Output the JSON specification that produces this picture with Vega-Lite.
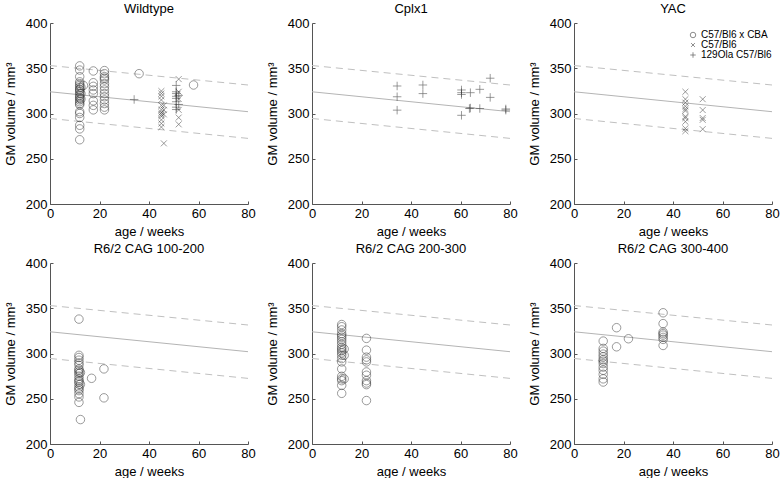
{
  "$schema": "https://vega.github.io/schema/vega-lite/v6.json",
  "background": "white",
  "padding": {"left": 4, "top": 3, "right": 4, "bottom": 0},
  "bounds": "flush",
  "columns": 3,
  "spacing": {"row": 59, "column": 64},
  "config": {
    "font": "Liberation Sans",
    "view": {"stroke": null},
    "axis": {"grid": false, "labelFontSize": 13, "titleFontSize": 13, "titleFontWeight": "normal", "labelColor": "#000", "titleColor": "#000", "domainColor": "#555", "tickColor": "#555", "tickSize": -3, "labelPadding": 6, "labelFlush": false},
    "axisX": {"titlePadding": 5},
    "axisY": {"titlePadding": 8},
    "title": {"fontSize": 13, "fontWeight": "normal", "color": "#000", "offset": 1},
    "legend": {"labelFontSize": 10, "labelColor": "#000", "symbolSize": 30, "symbolStrokeWidth": 0.8, "symbolStrokeColor": "#333", "rowPadding": 0, "labelOffset": 3, "padding": 0}
  },
  "datasets": {
    "lines": [
      {"kind": "fit", "age": 0, "vol": 324}, {"kind": "fit", "age": 80, "vol": 302},
      {"kind": "upper", "age": 0, "vol": 353}, {"kind": "upper", "age": 80, "vol": 331.5},
      {"kind": "lower", "age": 0, "vol": 294.5}, {"kind": "lower", "age": 80, "vol": 272.5}
    ]
  },
  "data": {"values": [
    {"panel": "Wildtype", "strain": "C57/Bl6 x CBA", "age": 12, "vol": 352.6},
    {"panel": "Wildtype", "strain": "C57/Bl6 x CBA", "age": 12, "vol": 348},
    {"panel": "Wildtype", "strain": "C57/Bl6 x CBA", "age": 12, "vol": 340.7},
    {"panel": "Wildtype", "strain": "C57/Bl6 x CBA", "age": 12, "vol": 335},
    {"panel": "Wildtype", "strain": "C57/Bl6 x CBA", "age": 12, "vol": 333},
    {"panel": "Wildtype", "strain": "C57/Bl6 x CBA", "age": 12, "vol": 331},
    {"panel": "Wildtype", "strain": "C57/Bl6 x CBA", "age": 12, "vol": 329},
    {"panel": "Wildtype", "strain": "C57/Bl6 x CBA", "age": 12, "vol": 327},
    {"panel": "Wildtype", "strain": "C57/Bl6 x CBA", "age": 12, "vol": 326},
    {"panel": "Wildtype", "strain": "C57/Bl6 x CBA", "age": 12, "vol": 324},
    {"panel": "Wildtype", "strain": "C57/Bl6 x CBA", "age": 12, "vol": 322},
    {"panel": "Wildtype", "strain": "C57/Bl6 x CBA", "age": 12, "vol": 320},
    {"panel": "Wildtype", "strain": "C57/Bl6 x CBA", "age": 12, "vol": 318},
    {"panel": "Wildtype", "strain": "C57/Bl6 x CBA", "age": 12, "vol": 316.7},
    {"panel": "Wildtype", "strain": "C57/Bl6 x CBA", "age": 12, "vol": 315},
    {"panel": "Wildtype", "strain": "C57/Bl6 x CBA", "age": 12, "vol": 313},
    {"panel": "Wildtype", "strain": "C57/Bl6 x CBA", "age": 12, "vol": 311},
    {"panel": "Wildtype", "strain": "C57/Bl6 x CBA", "age": 12, "vol": 309.6},
    {"panel": "Wildtype", "strain": "C57/Bl6 x CBA", "age": 12, "vol": 302},
    {"panel": "Wildtype", "strain": "C57/Bl6 x CBA", "age": 12, "vol": 300},
    {"panel": "Wildtype", "strain": "C57/Bl6 x CBA", "age": 12, "vol": 295.6},
    {"panel": "Wildtype", "strain": "C57/Bl6 x CBA", "age": 12, "vol": 287},
    {"panel": "Wildtype", "strain": "C57/Bl6 x CBA", "age": 12, "vol": 283},
    {"panel": "Wildtype", "strain": "C57/Bl6 x CBA", "age": 12, "vol": 271},
    {"panel": "Wildtype", "strain": "C57/Bl6 x CBA", "age": 12.5, "vol": 329},
    {"panel": "Wildtype", "strain": "C57/Bl6 x CBA", "age": 12.5, "vol": 322},
    {"panel": "Wildtype", "strain": "C57/Bl6 x CBA", "age": 12.5, "vol": 316},
    {"panel": "Wildtype", "strain": "C57/Bl6 x CBA", "age": 13.5, "vol": 331},
    {"panel": "Wildtype", "strain": "C57/Bl6 x CBA", "age": 17.5, "vol": 347},
    {"panel": "Wildtype", "strain": "C57/Bl6 x CBA", "age": 17.5, "vol": 334},
    {"panel": "Wildtype", "strain": "C57/Bl6 x CBA", "age": 17.5, "vol": 330},
    {"panel": "Wildtype", "strain": "C57/Bl6 x CBA", "age": 17.5, "vol": 326},
    {"panel": "Wildtype", "strain": "C57/Bl6 x CBA", "age": 17.5, "vol": 322},
    {"panel": "Wildtype", "strain": "C57/Bl6 x CBA", "age": 17.5, "vol": 314},
    {"panel": "Wildtype", "strain": "C57/Bl6 x CBA", "age": 17.5, "vol": 309},
    {"panel": "Wildtype", "strain": "C57/Bl6 x CBA", "age": 17.5, "vol": 304},
    {"panel": "Wildtype", "strain": "C57/Bl6 x CBA", "age": 22, "vol": 347.4},
    {"panel": "Wildtype", "strain": "C57/Bl6 x CBA", "age": 22, "vol": 344},
    {"panel": "Wildtype", "strain": "C57/Bl6 x CBA", "age": 22, "vol": 340.7},
    {"panel": "Wildtype", "strain": "C57/Bl6 x CBA", "age": 22, "vol": 339},
    {"panel": "Wildtype", "strain": "C57/Bl6 x CBA", "age": 22, "vol": 337},
    {"panel": "Wildtype", "strain": "C57/Bl6 x CBA", "age": 22, "vol": 333},
    {"panel": "Wildtype", "strain": "C57/Bl6 x CBA", "age": 22, "vol": 329.6},
    {"panel": "Wildtype", "strain": "C57/Bl6 x CBA", "age": 22, "vol": 326},
    {"panel": "Wildtype", "strain": "C57/Bl6 x CBA", "age": 22, "vol": 322},
    {"panel": "Wildtype", "strain": "C57/Bl6 x CBA", "age": 22, "vol": 318.5},
    {"panel": "Wildtype", "strain": "C57/Bl6 x CBA", "age": 22, "vol": 315},
    {"panel": "Wildtype", "strain": "C57/Bl6 x CBA", "age": 22, "vol": 311},
    {"panel": "Wildtype", "strain": "C57/Bl6 x CBA", "age": 22, "vol": 307},
    {"panel": "Wildtype", "strain": "C57/Bl6 x CBA", "age": 22, "vol": 304},
    {"panel": "Wildtype", "strain": "C57/Bl6 x CBA", "age": 36, "vol": 344},
    {"panel": "Wildtype", "strain": "C57/Bl6 x CBA", "age": 58, "vol": 331.5},
    {"panel": "Wildtype", "strain": "129Ola C57/Bl6", "age": 34, "vol": 315.5},
    {"panel": "Wildtype", "strain": "129Ola C57/Bl6", "age": 51, "vol": 331},
    {"panel": "Wildtype", "strain": "129Ola C57/Bl6", "age": 51, "vol": 324},
    {"panel": "Wildtype", "strain": "129Ola C57/Bl6", "age": 51, "vol": 322},
    {"panel": "Wildtype", "strain": "129Ola C57/Bl6", "age": 51, "vol": 319},
    {"panel": "Wildtype", "strain": "129Ola C57/Bl6", "age": 51, "vol": 316.7},
    {"panel": "Wildtype", "strain": "129Ola C57/Bl6", "age": 51, "vol": 313},
    {"panel": "Wildtype", "strain": "129Ola C57/Bl6", "age": 51, "vol": 307},
    {"panel": "Wildtype", "strain": "129Ola C57/Bl6", "age": 51, "vol": 304.4},
    {"panel": "Wildtype", "strain": "129Ola C57/Bl6", "age": 52, "vol": 320},
    {"panel": "Wildtype", "strain": "129Ola C57/Bl6", "age": 52, "vol": 310},
    {"panel": "Wildtype", "strain": "C57/Bl6", "age": 45, "vol": 324.8},
    {"panel": "Wildtype", "strain": "C57/Bl6", "age": 45, "vol": 322},
    {"panel": "Wildtype", "strain": "C57/Bl6", "age": 45, "vol": 319},
    {"panel": "Wildtype", "strain": "C57/Bl6", "age": 45, "vol": 315},
    {"panel": "Wildtype", "strain": "C57/Bl6", "age": 45, "vol": 309},
    {"panel": "Wildtype", "strain": "C57/Bl6", "age": 45, "vol": 304},
    {"panel": "Wildtype", "strain": "C57/Bl6", "age": 45, "vol": 301},
    {"panel": "Wildtype", "strain": "C57/Bl6", "age": 45, "vol": 299},
    {"panel": "Wildtype", "strain": "C57/Bl6", "age": 45, "vol": 297},
    {"panel": "Wildtype", "strain": "C57/Bl6", "age": 45, "vol": 293},
    {"panel": "Wildtype", "strain": "C57/Bl6", "age": 45, "vol": 289},
    {"panel": "Wildtype", "strain": "C57/Bl6", "age": 45, "vol": 285},
    {"panel": "Wildtype", "strain": "C57/Bl6", "age": 46, "vol": 267},
    {"panel": "Wildtype", "strain": "C57/Bl6", "age": 46, "vol": 309},
    {"panel": "Wildtype", "strain": "C57/Bl6", "age": 46, "vol": 304},
    {"panel": "Wildtype", "strain": "C57/Bl6", "age": 46, "vol": 299},
    {"panel": "Wildtype", "strain": "C57/Bl6", "age": 52, "vol": 338},
    {"panel": "Wildtype", "strain": "C57/Bl6", "age": 52, "vol": 324},
    {"panel": "Wildtype", "strain": "C57/Bl6", "age": 52, "vol": 316},
    {"panel": "Wildtype", "strain": "C57/Bl6", "age": 52, "vol": 304},
    {"panel": "Wildtype", "strain": "C57/Bl6", "age": 52, "vol": 295.5},
    {"panel": "Wildtype", "strain": "C57/Bl6", "age": 52, "vol": 288},
    {"panel": "Cplx1", "strain": "129Ola C57/Bl6", "age": 34.4, "vol": 330.4},
    {"panel": "Cplx1", "strain": "129Ola C57/Bl6", "age": 34.4, "vol": 318.5},
    {"panel": "Cplx1", "strain": "129Ola C57/Bl6", "age": 34.4, "vol": 303.7},
    {"panel": "Cplx1", "strain": "129Ola C57/Bl6", "age": 44.8, "vol": 331.5},
    {"panel": "Cplx1", "strain": "129Ola C57/Bl6", "age": 44.8, "vol": 322},
    {"panel": "Cplx1", "strain": "129Ola C57/Bl6", "age": 60.4, "vol": 326},
    {"panel": "Cplx1", "strain": "129Ola C57/Bl6", "age": 60.4, "vol": 323},
    {"panel": "Cplx1", "strain": "129Ola C57/Bl6", "age": 60.4, "vol": 321},
    {"panel": "Cplx1", "strain": "129Ola C57/Bl6", "age": 60.4, "vol": 298},
    {"panel": "Cplx1", "strain": "129Ola C57/Bl6", "age": 64, "vol": 323},
    {"panel": "Cplx1", "strain": "129Ola C57/Bl6", "age": 64, "vol": 306},
    {"panel": "Cplx1", "strain": "129Ola C57/Bl6", "age": 63.6, "vol": 305.5},
    {"panel": "Cplx1", "strain": "129Ola C57/Bl6", "age": 67.8, "vol": 326.7},
    {"panel": "Cplx1", "strain": "129Ola C57/Bl6", "age": 67.8, "vol": 305.5},
    {"panel": "Cplx1", "strain": "129Ola C57/Bl6", "age": 72, "vol": 339},
    {"panel": "Cplx1", "strain": "129Ola C57/Bl6", "age": 72, "vol": 317.8},
    {"panel": "Cplx1", "strain": "129Ola C57/Bl6", "age": 78.3, "vol": 305},
    {"panel": "Cplx1", "strain": "129Ola C57/Bl6", "age": 78.3, "vol": 303.7},
    {"panel": "YAC", "strain": "C57/Bl6", "age": 45, "vol": 324},
    {"panel": "YAC", "strain": "C57/Bl6", "age": 45, "vol": 315.8},
    {"panel": "YAC", "strain": "C57/Bl6", "age": 45, "vol": 312},
    {"panel": "YAC", "strain": "C57/Bl6", "age": 45, "vol": 308},
    {"panel": "YAC", "strain": "C57/Bl6", "age": 45, "vol": 305},
    {"panel": "YAC", "strain": "C57/Bl6", "age": 45, "vol": 303},
    {"panel": "YAC", "strain": "C57/Bl6", "age": 45, "vol": 296.7},
    {"panel": "YAC", "strain": "C57/Bl6", "age": 45, "vol": 295},
    {"panel": "YAC", "strain": "C57/Bl6", "age": 45, "vol": 291},
    {"panel": "YAC", "strain": "C57/Bl6", "age": 45, "vol": 283.5},
    {"panel": "YAC", "strain": "C57/Bl6", "age": 45, "vol": 280.5},
    {"panel": "YAC", "strain": "C57/Bl6", "age": 52, "vol": 315.8},
    {"panel": "YAC", "strain": "C57/Bl6", "age": 52, "vol": 303.8},
    {"panel": "YAC", "strain": "C57/Bl6", "age": 52, "vol": 295},
    {"panel": "YAC", "strain": "C57/Bl6", "age": 52, "vol": 293},
    {"panel": "YAC", "strain": "C57/Bl6", "age": 52, "vol": 282.7},
    {"panel": "R6/2 CAG 100-200", "strain": "C57/Bl6 x CBA", "age": 11.7, "vol": 338},
    {"panel": "R6/2 CAG 100-200", "strain": "C57/Bl6 x CBA", "age": 11.7, "vol": 298},
    {"panel": "R6/2 CAG 100-200", "strain": "C57/Bl6 x CBA", "age": 11.7, "vol": 295.6},
    {"panel": "R6/2 CAG 100-200", "strain": "C57/Bl6 x CBA", "age": 11.7, "vol": 292.6},
    {"panel": "R6/2 CAG 100-200", "strain": "C57/Bl6 x CBA", "age": 11.7, "vol": 289.6},
    {"panel": "R6/2 CAG 100-200", "strain": "C57/Bl6 x CBA", "age": 11.7, "vol": 287},
    {"panel": "R6/2 CAG 100-200", "strain": "C57/Bl6 x CBA", "age": 11.7, "vol": 283},
    {"panel": "R6/2 CAG 100-200", "strain": "C57/Bl6 x CBA", "age": 11.7, "vol": 281.5},
    {"panel": "R6/2 CAG 100-200", "strain": "C57/Bl6 x CBA", "age": 11.7, "vol": 279.6},
    {"panel": "R6/2 CAG 100-200", "strain": "C57/Bl6 x CBA", "age": 11.7, "vol": 277.8},
    {"panel": "R6/2 CAG 100-200", "strain": "C57/Bl6 x CBA", "age": 11.7, "vol": 275},
    {"panel": "R6/2 CAG 100-200", "strain": "C57/Bl6 x CBA", "age": 11.7, "vol": 272},
    {"panel": "R6/2 CAG 100-200", "strain": "C57/Bl6 x CBA", "age": 11.7, "vol": 270},
    {"panel": "R6/2 CAG 100-200", "strain": "C57/Bl6 x CBA", "age": 11.7, "vol": 268.5},
    {"panel": "R6/2 CAG 100-200", "strain": "C57/Bl6 x CBA", "age": 11.7, "vol": 266},
    {"panel": "R6/2 CAG 100-200", "strain": "C57/Bl6 x CBA", "age": 11.7, "vol": 263},
    {"panel": "R6/2 CAG 100-200", "strain": "C57/Bl6 x CBA", "age": 11.7, "vol": 261},
    {"panel": "R6/2 CAG 100-200", "strain": "C57/Bl6 x CBA", "age": 11.7, "vol": 259},
    {"panel": "R6/2 CAG 100-200", "strain": "C57/Bl6 x CBA", "age": 11.7, "vol": 255.6},
    {"panel": "R6/2 CAG 100-200", "strain": "C57/Bl6 x CBA", "age": 11.7, "vol": 252},
    {"panel": "R6/2 CAG 100-200", "strain": "C57/Bl6 x CBA", "age": 11.7, "vol": 246},
    {"panel": "R6/2 CAG 100-200", "strain": "C57/Bl6 x CBA", "age": 12.3, "vol": 279},
    {"panel": "R6/2 CAG 100-200", "strain": "C57/Bl6 x CBA", "age": 12.3, "vol": 266},
    {"panel": "R6/2 CAG 100-200", "strain": "C57/Bl6 x CBA", "age": 12.3, "vol": 227},
    {"panel": "R6/2 CAG 100-200", "strain": "C57/Bl6 x CBA", "age": 16.8, "vol": 272.6},
    {"panel": "R6/2 CAG 100-200", "strain": "C57/Bl6 x CBA", "age": 21.8, "vol": 283},
    {"panel": "R6/2 CAG 100-200", "strain": "C57/Bl6 x CBA", "age": 21.8, "vol": 251},
    {"panel": "R6/2 CAG 200-300", "strain": "C57/Bl6 x CBA", "age": 12, "vol": 332},
    {"panel": "R6/2 CAG 200-300", "strain": "C57/Bl6 x CBA", "age": 12, "vol": 329.6},
    {"panel": "R6/2 CAG 200-300", "strain": "C57/Bl6 x CBA", "age": 12, "vol": 326},
    {"panel": "R6/2 CAG 200-300", "strain": "C57/Bl6 x CBA", "age": 12, "vol": 322},
    {"panel": "R6/2 CAG 200-300", "strain": "C57/Bl6 x CBA", "age": 12, "vol": 320},
    {"panel": "R6/2 CAG 200-300", "strain": "C57/Bl6 x CBA", "age": 12, "vol": 318},
    {"panel": "R6/2 CAG 200-300", "strain": "C57/Bl6 x CBA", "age": 12, "vol": 315.6},
    {"panel": "R6/2 CAG 200-300", "strain": "C57/Bl6 x CBA", "age": 12, "vol": 313},
    {"panel": "R6/2 CAG 200-300", "strain": "C57/Bl6 x CBA", "age": 12, "vol": 310},
    {"panel": "R6/2 CAG 200-300", "strain": "C57/Bl6 x CBA", "age": 12, "vol": 307},
    {"panel": "R6/2 CAG 200-300", "strain": "C57/Bl6 x CBA", "age": 12, "vol": 305},
    {"panel": "R6/2 CAG 200-300", "strain": "C57/Bl6 x CBA", "age": 12, "vol": 303},
    {"panel": "R6/2 CAG 200-300", "strain": "C57/Bl6 x CBA", "age": 12, "vol": 300.7},
    {"panel": "R6/2 CAG 200-300", "strain": "C57/Bl6 x CBA", "age": 12, "vol": 298},
    {"panel": "R6/2 CAG 200-300", "strain": "C57/Bl6 x CBA", "age": 12, "vol": 294.4},
    {"panel": "R6/2 CAG 200-300", "strain": "C57/Bl6 x CBA", "age": 12, "vol": 290.7},
    {"panel": "R6/2 CAG 200-300", "strain": "C57/Bl6 x CBA", "age": 12, "vol": 283},
    {"panel": "R6/2 CAG 200-300", "strain": "C57/Bl6 x CBA", "age": 12, "vol": 274.8},
    {"panel": "R6/2 CAG 200-300", "strain": "C57/Bl6 x CBA", "age": 12, "vol": 272},
    {"panel": "R6/2 CAG 200-300", "strain": "C57/Bl6 x CBA", "age": 12, "vol": 270},
    {"panel": "R6/2 CAG 200-300", "strain": "C57/Bl6 x CBA", "age": 12, "vol": 264.8},
    {"panel": "R6/2 CAG 200-300", "strain": "C57/Bl6 x CBA", "age": 12, "vol": 256},
    {"panel": "R6/2 CAG 200-300", "strain": "C57/Bl6 x CBA", "age": 13, "vol": 305},
    {"panel": "R6/2 CAG 200-300", "strain": "C57/Bl6 x CBA", "age": 13, "vol": 298},
    {"panel": "R6/2 CAG 200-300", "strain": "C57/Bl6 x CBA", "age": 13, "vol": 272},
    {"panel": "R6/2 CAG 200-300", "strain": "C57/Bl6 x CBA", "age": 22, "vol": 316.7},
    {"panel": "R6/2 CAG 200-300", "strain": "C57/Bl6 x CBA", "age": 22, "vol": 303.7},
    {"panel": "R6/2 CAG 200-300", "strain": "C57/Bl6 x CBA", "age": 22, "vol": 296},
    {"panel": "R6/2 CAG 200-300", "strain": "C57/Bl6 x CBA", "age": 22, "vol": 293},
    {"panel": "R6/2 CAG 200-300", "strain": "C57/Bl6 x CBA", "age": 22, "vol": 290.7},
    {"panel": "R6/2 CAG 200-300", "strain": "C57/Bl6 x CBA", "age": 22, "vol": 279.6},
    {"panel": "R6/2 CAG 200-300", "strain": "C57/Bl6 x CBA", "age": 22, "vol": 276},
    {"panel": "R6/2 CAG 200-300", "strain": "C57/Bl6 x CBA", "age": 22, "vol": 270},
    {"panel": "R6/2 CAG 200-300", "strain": "C57/Bl6 x CBA", "age": 22, "vol": 267.4},
    {"panel": "R6/2 CAG 200-300", "strain": "C57/Bl6 x CBA", "age": 22, "vol": 265.6},
    {"panel": "R6/2 CAG 200-300", "strain": "C57/Bl6 x CBA", "age": 22, "vol": 248},
    {"panel": "R6/2 CAG 300-400", "strain": "C57/Bl6 x CBA", "age": 11.8, "vol": 313.7},
    {"panel": "R6/2 CAG 300-400", "strain": "C57/Bl6 x CBA", "age": 11.8, "vol": 305.6},
    {"panel": "R6/2 CAG 300-400", "strain": "C57/Bl6 x CBA", "age": 11.8, "vol": 302.6},
    {"panel": "R6/2 CAG 300-400", "strain": "C57/Bl6 x CBA", "age": 11.8, "vol": 299.3},
    {"panel": "R6/2 CAG 300-400", "strain": "C57/Bl6 x CBA", "age": 11.8, "vol": 296.3},
    {"panel": "R6/2 CAG 300-400", "strain": "C57/Bl6 x CBA", "age": 11.8, "vol": 293.3},
    {"panel": "R6/2 CAG 300-400", "strain": "C57/Bl6 x CBA", "age": 11.8, "vol": 291.5},
    {"panel": "R6/2 CAG 300-400", "strain": "C57/Bl6 x CBA", "age": 11.8, "vol": 288.9},
    {"panel": "R6/2 CAG 300-400", "strain": "C57/Bl6 x CBA", "age": 11.8, "vol": 285},
    {"panel": "R6/2 CAG 300-400", "strain": "C57/Bl6 x CBA", "age": 11.8, "vol": 281.5},
    {"panel": "R6/2 CAG 300-400", "strain": "C57/Bl6 x CBA", "age": 11.8, "vol": 277},
    {"panel": "R6/2 CAG 300-400", "strain": "C57/Bl6 x CBA", "age": 11.8, "vol": 272},
    {"panel": "R6/2 CAG 300-400", "strain": "C57/Bl6 x CBA", "age": 11.8, "vol": 268.5},
    {"panel": "R6/2 CAG 300-400", "strain": "C57/Bl6 x CBA", "age": 17.2, "vol": 328.5},
    {"panel": "R6/2 CAG 300-400", "strain": "C57/Bl6 x CBA", "age": 17.2, "vol": 307.4},
    {"panel": "R6/2 CAG 300-400", "strain": "C57/Bl6 x CBA", "age": 22, "vol": 316.3},
    {"panel": "R6/2 CAG 300-400", "strain": "C57/Bl6 x CBA", "age": 36, "vol": 345},
    {"panel": "R6/2 CAG 300-400", "strain": "C57/Bl6 x CBA", "age": 36, "vol": 333},
    {"panel": "R6/2 CAG 300-400", "strain": "C57/Bl6 x CBA", "age": 36, "vol": 323.7},
    {"panel": "R6/2 CAG 300-400", "strain": "C57/Bl6 x CBA", "age": 36, "vol": 322},
    {"panel": "R6/2 CAG 300-400", "strain": "C57/Bl6 x CBA", "age": 36, "vol": 320.3},
    {"panel": "R6/2 CAG 300-400", "strain": "C57/Bl6 x CBA", "age": 36, "vol": 317.8},
    {"panel": "R6/2 CAG 300-400", "strain": "C57/Bl6 x CBA", "age": 36, "vol": 315.6},
    {"panel": "R6/2 CAG 300-400", "strain": "C57/Bl6 x CBA", "age": 36, "vol": 308.9}
  ]},
  "resolve": {"legend": {"shape": "independent"}},
  "concat": [
    {"title": "Wildtype", "width": 198, "height": 181, "layer": [
      {"data": {"name": "lines"}, "transform": [{"filter": {"field": "kind", "equal": "fit"}}], "mark": {"type": "line", "color": "#b4b4b4", "strokeWidth": 1}, "encoding": {"x": {"field": "age", "type": "quantitative", "scale": {"domain": [0, 80], "nice": false}, "axis": {"values": [0, 20, 40, 60, 80], "title": "age / weeks"}}, "y": {"field": "vol", "type": "quantitative", "scale": {"domain": [200, 400], "nice": false}, "axis": {"values": [200, 250, 300, 350, 400], "title": "GM volume / mm³"}}}},
      {"data": {"name": "lines"}, "transform": [{"filter": {"field": "kind", "oneOf": ["upper", "lower"]}}], "mark": {"type": "line", "color": "#c0c0c0", "strokeWidth": 1, "strokeDash": [7, 5]}, "encoding": {"x": {"field": "age", "type": "quantitative"}, "y": {"field": "vol", "type": "quantitative"}, "detail": {"field": "kind"}}},
      {"transform": [{"filter": {"field": "panel", "equal": "Wildtype"}}], "mark": {"type": "point", "filled": false, "color": "#333", "strokeWidth": 0.7, "size": 72}, "encoding": {"x": {"field": "age", "type": "quantitative"}, "y": {"field": "vol", "type": "quantitative"}, "shape": {"field": "strain", "type": "nominal", "scale": {"domain": ["C57/Bl6 x CBA", "C57/Bl6", "129Ola C57/Bl6"], "range": ["circle", "M-0.7,-0.7L0.7,0.7M-0.7,0.7L0.7,-0.7", "M-1,0L1,0M0,-1L0,1"]}, "legend": null}}}
    ]},
    {"title": "Cplx1", "width": 198, "height": 181, "layer": [
      {"data": {"name": "lines"}, "transform": [{"filter": {"field": "kind", "equal": "fit"}}], "mark": {"type": "line", "color": "#b4b4b4", "strokeWidth": 1}, "encoding": {"x": {"field": "age", "type": "quantitative", "scale": {"domain": [0, 80], "nice": false}, "axis": {"values": [0, 20, 40, 60, 80], "title": "age / weeks"}}, "y": {"field": "vol", "type": "quantitative", "scale": {"domain": [200, 400], "nice": false}, "axis": {"values": [200, 250, 300, 350, 400], "title": "GM volume / mm³"}}}},
      {"data": {"name": "lines"}, "transform": [{"filter": {"field": "kind", "oneOf": ["upper", "lower"]}}], "mark": {"type": "line", "color": "#c0c0c0", "strokeWidth": 1, "strokeDash": [7, 5]}, "encoding": {"x": {"field": "age", "type": "quantitative"}, "y": {"field": "vol", "type": "quantitative"}, "detail": {"field": "kind"}}},
      {"transform": [{"filter": {"field": "panel", "equal": "Cplx1"}}], "mark": {"type": "point", "filled": false, "color": "#333", "strokeWidth": 0.7, "size": 72}, "encoding": {"x": {"field": "age", "type": "quantitative"}, "y": {"field": "vol", "type": "quantitative"}, "shape": {"field": "strain", "type": "nominal", "scale": {"domain": ["C57/Bl6 x CBA", "C57/Bl6", "129Ola C57/Bl6"], "range": ["circle", "M-0.7,-0.7L0.7,0.7M-0.7,0.7L0.7,-0.7", "M-1,0L1,0M0,-1L0,1"]}, "legend": null}}}
    ]},
    {"title": "YAC", "width": 198, "height": 181, "layer": [
      {"data": {"name": "lines"}, "transform": [{"filter": {"field": "kind", "equal": "fit"}}], "mark": {"type": "line", "color": "#b4b4b4", "strokeWidth": 1}, "encoding": {"x": {"field": "age", "type": "quantitative", "scale": {"domain": [0, 80], "nice": false}, "axis": {"values": [0, 20, 40, 60, 80], "title": "age / weeks"}}, "y": {"field": "vol", "type": "quantitative", "scale": {"domain": [200, 400], "nice": false}, "axis": {"values": [200, 250, 300, 350, 400], "title": "GM volume / mm³"}}}},
      {"data": {"name": "lines"}, "transform": [{"filter": {"field": "kind", "oneOf": ["upper", "lower"]}}], "mark": {"type": "line", "color": "#c0c0c0", "strokeWidth": 1, "strokeDash": [7, 5]}, "encoding": {"x": {"field": "age", "type": "quantitative"}, "y": {"field": "vol", "type": "quantitative"}, "detail": {"field": "kind"}}},
      {"transform": [{"filter": {"field": "panel", "equal": "YAC"}}], "mark": {"type": "point", "filled": false, "color": "#333", "strokeWidth": 0.7, "size": 72}, "encoding": {"x": {"field": "age", "type": "quantitative"}, "y": {"field": "vol", "type": "quantitative"}, "shape": {"field": "strain", "type": "nominal", "title": null, "scale": {"domain": ["C57/Bl6 x CBA", "C57/Bl6", "129Ola C57/Bl6"], "range": ["circle", "M-0.7,-0.7L0.7,0.7M-0.7,0.7L0.7,-0.7", "M-1,0L1,0M0,-1L0,1"]}, "legend": {"orient": "none", "legendX": 114, "legendY": 7}}}}
    ]},
    {"title": "R6/2 CAG 100-200", "width": 198, "height": 181, "layer": [
      {"data": {"name": "lines"}, "transform": [{"filter": {"field": "kind", "equal": "fit"}}], "mark": {"type": "line", "color": "#b4b4b4", "strokeWidth": 1}, "encoding": {"x": {"field": "age", "type": "quantitative", "scale": {"domain": [0, 80], "nice": false}, "axis": {"values": [0, 20, 40, 60, 80], "title": "age / weeks"}}, "y": {"field": "vol", "type": "quantitative", "scale": {"domain": [200, 400], "nice": false}, "axis": {"values": [200, 250, 300, 350, 400], "title": "GM volume / mm³"}}}},
      {"data": {"name": "lines"}, "transform": [{"filter": {"field": "kind", "oneOf": ["upper", "lower"]}}], "mark": {"type": "line", "color": "#c0c0c0", "strokeWidth": 1, "strokeDash": [7, 5]}, "encoding": {"x": {"field": "age", "type": "quantitative"}, "y": {"field": "vol", "type": "quantitative"}, "detail": {"field": "kind"}}},
      {"transform": [{"filter": {"field": "panel", "equal": "R6/2 CAG 100-200"}}], "mark": {"type": "point", "filled": false, "color": "#333", "strokeWidth": 0.7, "size": 72}, "encoding": {"x": {"field": "age", "type": "quantitative"}, "y": {"field": "vol", "type": "quantitative"}, "shape": {"field": "strain", "type": "nominal", "scale": {"domain": ["C57/Bl6 x CBA", "C57/Bl6", "129Ola C57/Bl6"], "range": ["circle", "M-0.7,-0.7L0.7,0.7M-0.7,0.7L0.7,-0.7", "M-1,0L1,0M0,-1L0,1"]}, "legend": null}}}
    ]},
    {"title": "R6/2 CAG 200-300", "width": 198, "height": 181, "layer": [
      {"data": {"name": "lines"}, "transform": [{"filter": {"field": "kind", "equal": "fit"}}], "mark": {"type": "line", "color": "#b4b4b4", "strokeWidth": 1}, "encoding": {"x": {"field": "age", "type": "quantitative", "scale": {"domain": [0, 80], "nice": false}, "axis": {"values": [0, 20, 40, 60, 80], "title": "age / weeks"}}, "y": {"field": "vol", "type": "quantitative", "scale": {"domain": [200, 400], "nice": false}, "axis": {"values": [200, 250, 300, 350, 400], "title": "GM volume / mm³"}}}},
      {"data": {"name": "lines"}, "transform": [{"filter": {"field": "kind", "oneOf": ["upper", "lower"]}}], "mark": {"type": "line", "color": "#c0c0c0", "strokeWidth": 1, "strokeDash": [7, 5]}, "encoding": {"x": {"field": "age", "type": "quantitative"}, "y": {"field": "vol", "type": "quantitative"}, "detail": {"field": "kind"}}},
      {"transform": [{"filter": {"field": "panel", "equal": "R6/2 CAG 200-300"}}], "mark": {"type": "point", "filled": false, "color": "#333", "strokeWidth": 0.7, "size": 72}, "encoding": {"x": {"field": "age", "type": "quantitative"}, "y": {"field": "vol", "type": "quantitative"}, "shape": {"field": "strain", "type": "nominal", "scale": {"domain": ["C57/Bl6 x CBA", "C57/Bl6", "129Ola C57/Bl6"], "range": ["circle", "M-0.7,-0.7L0.7,0.7M-0.7,0.7L0.7,-0.7", "M-1,0L1,0M0,-1L0,1"]}, "legend": null}}}
    ]},
    {"title": "R6/2 CAG 300-400", "width": 198, "height": 181, "layer": [
      {"data": {"name": "lines"}, "transform": [{"filter": {"field": "kind", "equal": "fit"}}], "mark": {"type": "line", "color": "#b4b4b4", "strokeWidth": 1}, "encoding": {"x": {"field": "age", "type": "quantitative", "scale": {"domain": [0, 80], "nice": false}, "axis": {"values": [0, 20, 40, 60, 80], "title": "age / weeks"}}, "y": {"field": "vol", "type": "quantitative", "scale": {"domain": [200, 400], "nice": false}, "axis": {"values": [200, 250, 300, 350, 400], "title": "GM volume / mm³"}}}},
      {"data": {"name": "lines"}, "transform": [{"filter": {"field": "kind", "oneOf": ["upper", "lower"]}}], "mark": {"type": "line", "color": "#c0c0c0", "strokeWidth": 1, "strokeDash": [7, 5]}, "encoding": {"x": {"field": "age", "type": "quantitative"}, "y": {"field": "vol", "type": "quantitative"}, "detail": {"field": "kind"}}},
      {"transform": [{"filter": {"field": "panel", "equal": "R6/2 CAG 300-400"}}], "mark": {"type": "point", "filled": false, "color": "#333", "strokeWidth": 0.7, "size": 72}, "encoding": {"x": {"field": "age", "type": "quantitative"}, "y": {"field": "vol", "type": "quantitative"}, "shape": {"field": "strain", "type": "nominal", "scale": {"domain": ["C57/Bl6 x CBA", "C57/Bl6", "129Ola C57/Bl6"], "range": ["circle", "M-0.7,-0.7L0.7,0.7M-0.7,0.7L0.7,-0.7", "M-1,0L1,0M0,-1L0,1"]}, "legend": null}}}
    ]}
  ]
}
